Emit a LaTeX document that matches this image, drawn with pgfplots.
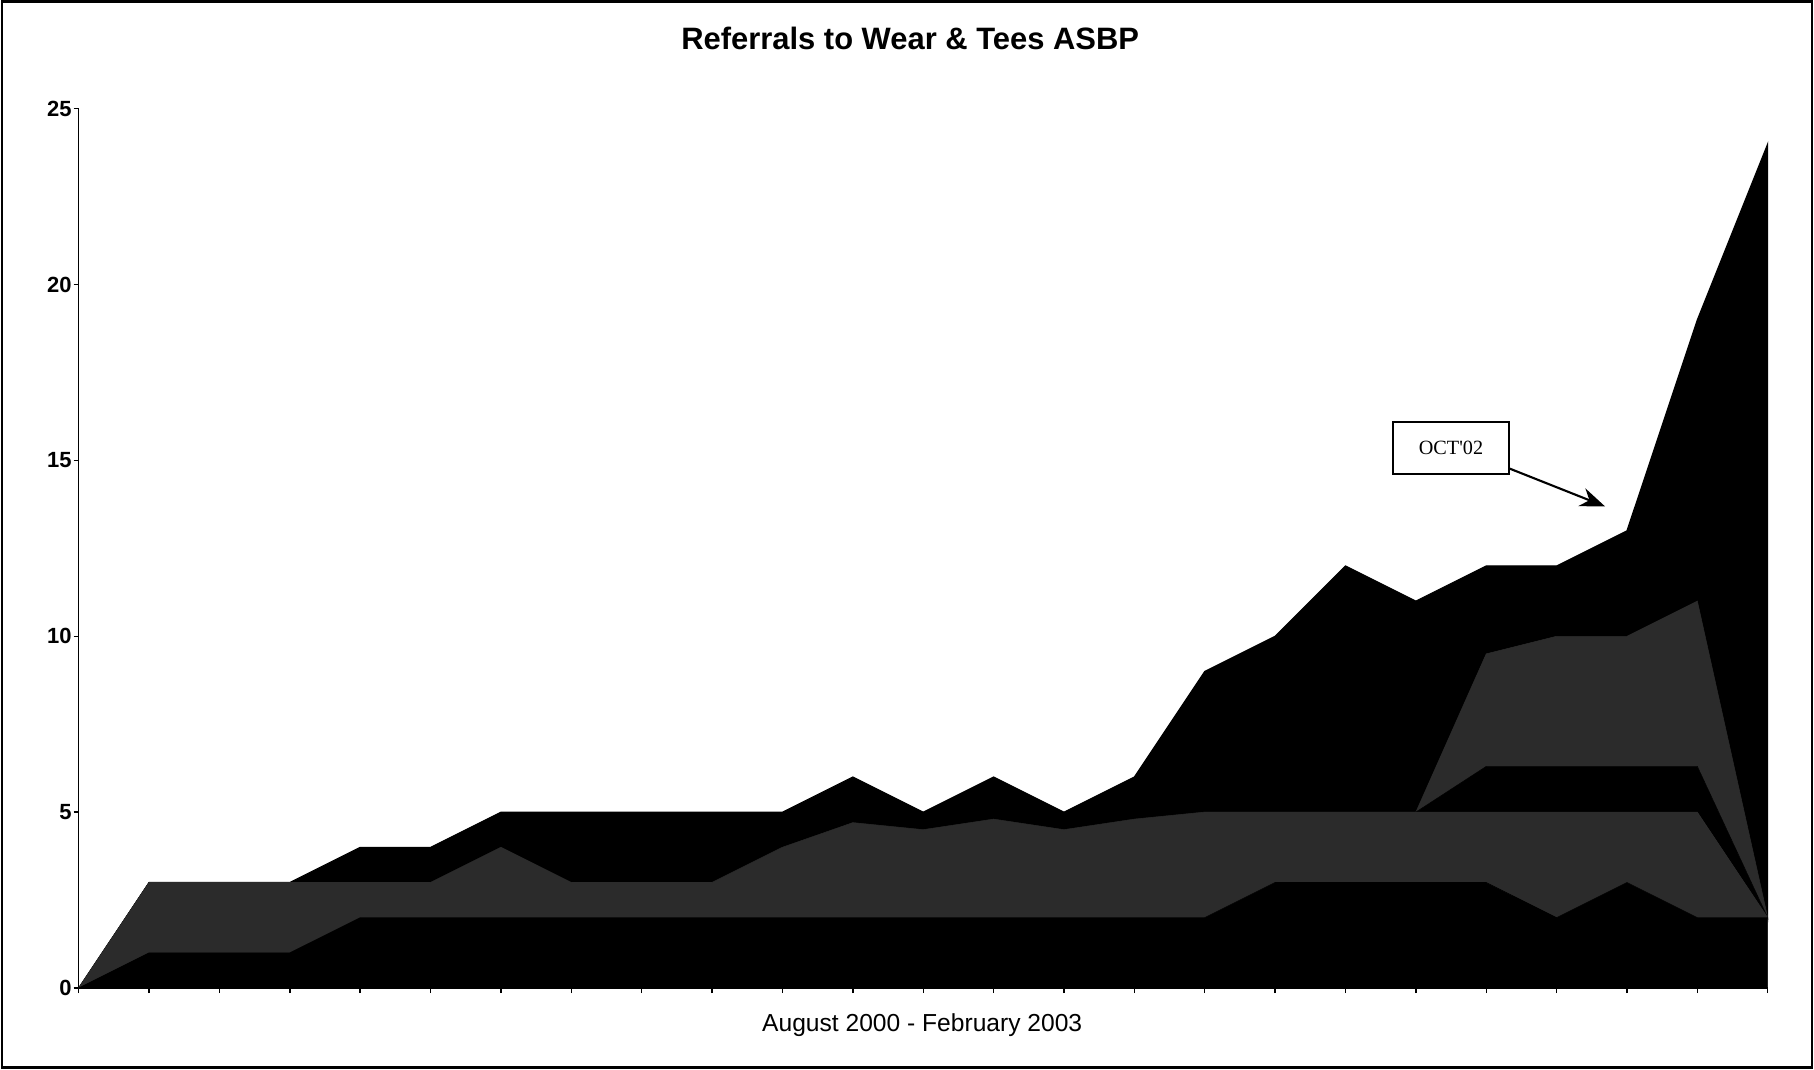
\documentclass[border=0pt]{standalone}
\usepackage{pgfplots}
\pgfplotsset{compat=1.18}
\usepackage{pgfplotstable}
\usepackage{fontspec}
\setmainfont{Liberation Sans}
\newfontfamily\seriffont{Liberation Serif}
\usetikzlibrary{arrows.meta}
\definecolor{dither}{gray}{0.17}

\pgfplotstableread{
x L1 L2 L3 L4 L5
0 0 0 0 0 0
1 1 2 0 0 0
2 1 2 0 0 0
3 1 2 0 0 0
4 2 1 0 0 1
5 2 1 0 0 1
6 2 2 0 0 1
7 2 1 0 0 2
8 2 1 0 0 2
9 2 1 0 0 2
10 2 2 0 0 1
11 2 2.7 0 0 1.3
12 2 2.5 0 0 0.5
13 2 2.8 0 0 1.2
14 2 2.5 0 0 0.5
15 2 2.8 0 0 1.2
16 2 3 0 0 4
17 3 2 0 0 5
18 3 2 0 0 7
19 3 2 0 0 6
20 3 2 1.3 3.2 2.5
21 2 3 1.3 3.7 2
22 3 2 1.3 3.7 3
23 2 3 1.3 4.7 8
24 2 0 0 0 22
}\data

\begin{document}
\begin{tikzpicture}
\path[use as bounding box] (-15.74mm,-16.2mm) rectangle (347.06mm,197.6mm);
\draw[line width=1.2pt] (-15.4mm,-15.9mm) rectangle (346.7mm,197.3mm);
\begin{axis}[
  at={(0,0)}, anchor=origin,
  scale only axis,
  width=337.8mm, height=175.86mm,
  xmin=0, xmax=24, ymin=0, ymax=25,
  axis x line=bottom, axis y line=left,
  axis line style={-, line width=0.8pt},
  xtick={0,...,24}, xticklabels={},
  ytick={0,5,10,15,20,25},
  tick align=outside,
  major tick length=1mm,
  tick style={black, line width=0.8pt},
  /pgf/number format/assume math mode=true,
  yticklabel style={font=\bfseries\fontsize{12.5}{14}\selectfont, inner sep=1pt},
  stack plots=y,
  clip=false,
]
\addplot[fill=black, draw=black, line width=0.3pt] table[x=x, y=L1] {\data} \closedcycle;
\addplot[fill=dither, draw=dither, line width=0.3pt] table[x=x, y=L2] {\data} \closedcycle;
\addplot[fill=black, draw=black, line width=0.3pt] table[x=x, y=L3] {\data} \closedcycle;
\addplot[fill=dither, draw=dither, line width=0.3pt] table[x=x, y=L4] {\data} \closedcycle;
\addplot[fill=black, draw=black, line width=0.6pt] table[x=x, y=L5] {\data} \closedcycle;

\node[draw=black, line width=1.4pt, fill=white, minimum width=23.2mm, minimum height=10.4mm, inner sep=0pt,
  font=\seriffont\fontsize{11.5}{13}\selectfont] (box) at (axis cs:19.5,15.35) {OCT'02};
\draw[line width=1.2pt, -{Stealth[length=5mm, width=3.8mm]}] (axis cs:20.33,14.77) -- (axis cs:21.69,13.69);
\end{axis}
\node[font=\bfseries\fontsize{17.6}{21}\selectfont] at (166.3mm,190mm) {Referrals to Wear \& Tees ASBP};
\node[font=\fontsize{14}{17}\selectfont] at (168.7mm,-7.4mm) {August 2000 - February 2003};
\end{tikzpicture}
\end{document}
